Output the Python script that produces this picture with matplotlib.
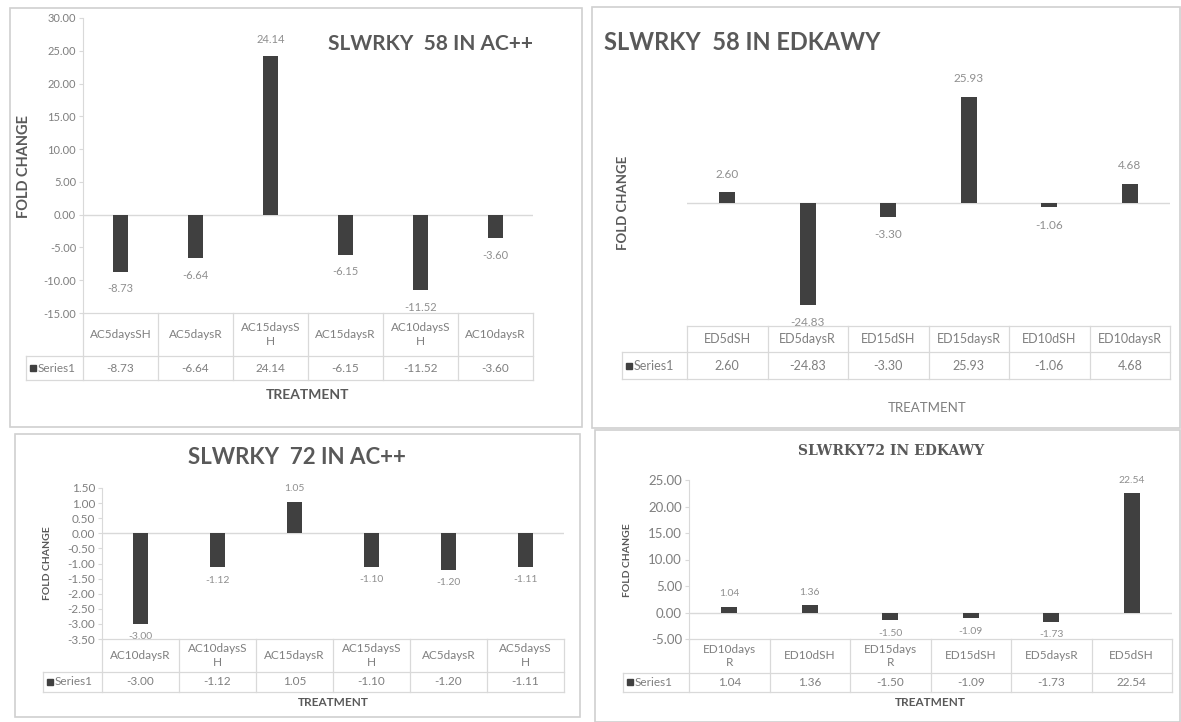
import numpy as np
import matplotlib
matplotlib.use("Agg")
import matplotlib.pyplot as plt
from matplotlib.patches import Rectangle
from matplotlib.ticker import FormatStrFormatter

W, H = 1181, 722

# fold-change values as printed in the Excel data tables
ac58_cats = ["AC5daysSH", "AC5daysR", "AC15daysS\nH", "AC15daysR", "AC10daysS\nH", "AC10daysR"]
ac58_vals = [-8.73, -6.64, 24.14, -6.15, -11.52, -3.60]

ed58_cats = ["ED5dSH", "ED5daysR", "ED15dSH", "ED15daysR", "ED10dSH", "ED10daysR"]
ed58_vals = [2.60, -24.83, -3.30, 25.93, -1.06, 4.68]

ac72_cats = ["AC10daysR", "AC10daysS\nH", "AC15daysR", "AC15daysS\nH", "AC5daysR", "AC5daysS\nH"]
ac72_vals = [-3.00, -1.12, 1.05, -1.10, -1.20, -1.11]

ed72_cats = ["ED10days\nR", "ED10dSH", "ED15days\nR", "ED15dSH", "ED5daysR", "ED5dSH"]
ed72_vals = [1.04, 1.36, -1.50, -1.09, -1.73, 22.54]

BAR = "#404040"
GRID = "#d9d9d9"
TICK = "#7f7f7f"
LABEL = "#8f8f8f"
TITLE = "#595959"

plt.rcParams["font.family"] = ["Lato", "DejaVu Sans"]

fig = plt.figure(figsize=(W / 100, H / 100), dpi=100)
bg = fig.add_axes([0, 0, 1, 1], zorder=-5)
bg.set_xlim(0, W)
bg.set_ylim(H, 0)
bg.axis("off")


def px_rect(l, t, r, b):
    return [l / W, 1 - b / H, (r - l) / W, (b - t) / H]


def chart(cats, vals, plot, rows, label_left, ylim, step, lab_off,
          show_y=True, tick_fs=8, tab_fs=8.5, lab_fs=8):
    l, t, r, b = plot
    head_b, ser_b = rows
    n = len(vals)
    x = np.arange(n)

    ax = fig.add_axes(px_rect(l, t, r, b))
    ax.patch.set_alpha(0)
    ax.bar(x, vals, width=0.2, color=BAR, zorder=3)
    ax.axhline(0, color=GRID, lw=1, zorder=2)
    ax.set_xlim(-0.5, n - 0.5)
    ax.set_ylim(*ylim)
    ax.set_xticks([])
    for s in ["top", "right", "bottom"]:
        ax.spines[s].set_visible(False)
    if show_y:
        ax.set_yticks(np.arange(ylim[0], ylim[1] + step / 2, step))
        ax.yaxis.set_major_formatter(FormatStrFormatter("%.2f"))
        ax.tick_params(axis="y", colors=GRID, labelcolor=TICK,
                       labelsize=tick_fs, length=3, width=0.8, pad=2)
        ax.spines["left"].set_color(GRID)
    else:
        ax.set_yticks([])
        ax.spines["left"].set_visible(False)
    for i, v in zip(x, vals):
        ax.annotate(f"{v:.2f}", (i, v), xytext=(0, lab_off if v > 0 else -lab_off),
                    textcoords="offset pixels", ha="center", va="center",
                    color=LABEL, fontsize=lab_fs)

    # data table under the plot area
    cw = (r - l) / n
    x0 = -0.5 - (l - label_left) / cw
    tab = fig.add_axes(px_rect(label_left, b, r, ser_b))
    tab.set_xlim(x0, n - 0.5)
    tab.set_ylim(ser_b, b)
    tab.axis("off")
    kw = dict(color=GRID, lw=0.9, clip_on=False)
    tab.plot([-0.5, n - 0.5], [b, b], **kw)
    tab.plot([x0, n - 0.5], [head_b, head_b], **kw)
    tab.plot([x0, n - 0.5], [ser_b, ser_b], **kw)
    tab.plot([x0, x0], [head_b, ser_b], **kw)
    for k in range(n + 1):
        tab.plot([k - 0.5, k - 0.5], [b, ser_b], **kw)
    for i, (c, v) in enumerate(zip(cats, vals)):
        tab.text(i, (b + head_b) / 2, c, ha="center", va="center",
                 color=TICK, fontsize=tab_fs, linespacing=1.25)
        tab.text(i, (head_b + ser_b) / 2, f"{v:.2f}", ha="center", va="center",
                 color=TICK, fontsize=tab_fs)
    ym = (head_b + ser_b) / 2
    tab.plot([x0 + 7 / cw], [ym], marker="s", ms=5, color=BAR, clip_on=False)
    tab.text(x0 + 12 / cw, ym, "Series1", ha="left", va="center",
             color=TICK, fontsize=tab_fs)
    return ax


def border(l, t, r, b):
    bg.add_patch(Rectangle((l, t), r - l, b - t, fill=False, ec="#d0d0d0", lw=1.2))


# --- SLWRKY 58 in AC++ ---
border(10, 8, 582, 427)
chart(ac58_cats, ac58_vals, (83, 18, 533, 313), (356, 380), 26,
      (-15, 30), 5, 17, tick_fs=8, tab_fs=8.5, lab_fs=8)
bg.text(430, 44, "SLWRKY  58 IN AC++", ha="center", va="center",
        fontsize=15, fontweight="bold", color=TITLE)
bg.text(24, 166, "FOLD CHANGE", rotation=90, ha="center", va="center",
        fontsize=10.5, fontweight="bold", color=TITLE)
bg.text(308, 395, "TREATMENT", ha="center", va="center",
        fontsize=10, fontweight="bold", color=TITLE)

# --- SLWRKY 58 in EDKAWY ---
border(592, 7, 1180, 428)
chart(ed58_cats, ed58_vals, (687, 80, 1170, 326), (352, 379), 622,
      (-30, 30), 10, 18, show_y=False, tab_fs=9, lab_fs=8.5)
bg.text(604, 42, "SLWRKY  58 IN EDKAWY", ha="left", va="center",
        fontsize=17, fontweight="bold", color=TITLE)
bg.text(623, 203, "FOLD CHANGE", rotation=90, ha="center", va="center",
        fontsize=9.5, fontweight="bold", color=TITLE)
bg.text(927, 408, "TREATMENT", ha="center", va="center",
        fontsize=9.5, color=TICK)

# --- SLWRKY 72 in AC++ ---
border(15, 434, 580, 717)
chart(ac72_cats, ac72_vals, (102, 488, 564, 639), (672, 692), 43,
      (-3.5, 1.5), 0.5, 13, tick_fs=8.5, tab_fs=8.5, lab_fs=7.5)
bg.text(297, 458, "SLWRKY  72 IN AC++", ha="center", va="center",
        fontsize=16, fontweight="bold", color=TITLE)
bg.text(47, 563, "FOLD CHANGE", rotation=90, ha="center", va="center",
        fontsize=7.5, fontweight="bold", color=TITLE)
bg.text(333, 702, "TREATMENT", ha="center", va="center",
        fontsize=8.5, fontweight="bold", color=TITLE)

# --- SLWRKY72 in EDKAWY ---
border(595, 430, 1180, 722)
chart(ed72_cats, ed72_vals, (689, 480, 1172, 639), (673, 692), 623,
      (-5, 25), 5, 13, tick_fs=9.5, tab_fs=8.5, lab_fs=7.5)
bg.text(891, 451, "SLWRKY72 IN EDKAWY", ha="center", va="center",
        fontsize=10, fontweight="bold", color=TITLE,
        family=["DejaVu Serif", "Liberation Serif"])
bg.text(627, 560, "FOLD CHANGE", rotation=90, ha="center", va="center",
        fontsize=7.5, fontweight="bold", color=TITLE)
bg.text(930, 702, "TREATMENT", ha="center", va="center",
        fontsize=8.5, fontweight="bold", color=TITLE)

fig.savefig("out.png", dpi=100)
